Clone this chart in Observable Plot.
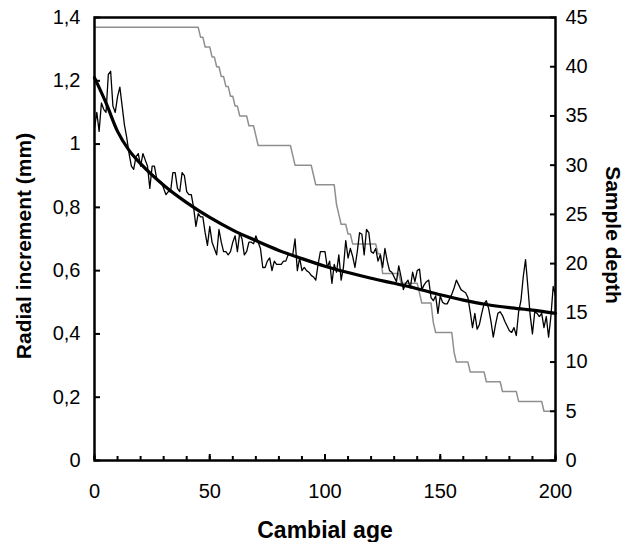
<!DOCTYPE html>
<html><head><meta charset="utf-8">
<script src="https://cdn.jsdelivr.net/npm/d3@7"></script>
<script src="https://cdn.jsdelivr.net/npm/@observablehq/plot@0.6"></script>
<style>body{margin:0;background:#fff}</style>
</head><body><div id="chart"></div>
<script>
// Radial increment (mm), one value per cambial age 0..200
const radialIncrement = [
1.05,1.10,1.04,1.13,1.11,1.10,1.22,1.23,1.12,1.10,
1.15,1.18,1.12,1.06,1.02,0.97,0.93,0.92,0.96,0.97,
0.93,0.97,0.95,0.93,0.86,0.93,0.93,0.89,0.88,0.88,
0.86,0.84,0.85,0.85,0.91,0.91,0.86,0.85,0.91,0.90,
0.85,0.84,0.84,0.80,0.74,0.78,0.77,0.77,0.72,0.68,
0.74,0.69,0.67,0.65,0.73,0.69,0.66,0.66,0.65,0.66,
0.69,0.71,0.66,0.72,0.70,0.65,0.66,0.69,0.69,0.685,
0.71,0.69,0.67,0.61,0.61,0.63,0.64,0.60,0.63,0.62,
0.62,0.62,0.63,0.63,0.65,0.65,0.65,0.70,0.60,0.64,
0.60,0.61,0.60,0.595,0.585,0.58,0.57,0.62,0.66,0.66,
0.66,0.61,0.63,0.56,0.62,0.595,0.65,0.57,0.61,0.695,
0.64,0.67,0.645,0.61,0.66,0.72,0.715,0.65,0.73,0.72,
0.66,0.655,0.67,0.63,0.65,0.61,0.67,0.63,0.60,0.595,
0.58,0.565,0.615,0.58,0.54,0.56,0.57,0.545,0.595,0.565,
0.60,0.605,0.54,0.555,0.565,0.57,0.515,0.505,0.52,0.465,
0.52,0.50,0.495,0.495,0.51,0.525,0.545,0.57,0.555,0.54,
0.535,0.53,0.515,0.47,0.42,0.465,0.415,0.43,0.465,0.495,
0.505,0.48,0.44,0.39,0.43,0.465,0.47,0.458,0.44,0.425,
0.41,0.405,0.42,0.395,0.47,0.505,0.58,0.635,0.55,0.46,
0.40,0.47,0.465,0.455,0.465,0.42,0.455,0.39,0.455,0.55,
0.52];

// Fitted growth curve (read at selected ages)
const fitAges   = [0,5,10,15,20,30,40,50,60,70,80,90,100,110,120,130,140,150,160,170,180,190,200];
const fitValues = [1.21,1.13,1.04,0.98,0.938,0.87,0.815,0.768,0.728,0.695,0.664,0.638,0.614,0.594,0.576,0.560,0.543,0.524,0.507,0.493,0.483,0.475,0.465];

// Sample depth: age at which each depth level starts
const depthStartAges = [0,46,48,51,53,55,57,59,61,63,67,70,71,86,87,95,96,105,106,107,110,112,123,125,133,141,142,147,148,156,157,163,170,177,184,195];
const depthValues    = [44,43,42,41,40,39,38,37,36,35,34,33,32,31,30,29,28,26,25,24,23,22,21,19,18,17,16,14,13,11,10,9,8,7,6,5];

// Axes
const leftTicks = [0,0.2,0.4,0.6,0.8,1,1.2,1.4];
const leftTickLabels = ["0","0,2","0,4","0,6","0,8","1","1,2","1,4"];
const rightTicks = [0,5,10,15,20,25,30,35,40,45];
const xMajorTicks = [0,50,100,150,200];
const xMinorTicks = [0,10,20,30,40,50,60,70,80,90,100,110,120,130,140,150,160,170,180,190,200];
const yMax = 1.4, depthMax = 45;

const toY = d => d * yMax / depthMax;
const rw = radialIncrement.map((v, i) => ({age: i, v}));
const fit = fitAges.map((a, i) => ({age: a, v: fitValues[i]}));
const depth = radialIncrement.map((_, age) => {
  const k = d3.bisectRight(depthStartAges, age) - 1;
  return {age, v: toY(depthValues[k])};
});
const rightPos = rightTicks.map(toY);

const chart = Plot.plot({
  width: 625, height: 542,
  marginLeft: 94, marginRight: 70, marginTop: 17, marginBottom: 82,
  x: {domain: [0, 200]},
  y: {domain: [0, yMax]},
  style: {fontFamily: '"Liberation Sans", Arial, sans-serif', fontSize: "20px", color: "#000", background: "#fff"},
  marks: [
    Plot.line(depth, {x: "age", y: "v", stroke: "#8f8f8f", strokeWidth: 1.5}),
    Plot.line(rw, {x: "age", y: "v", stroke: "#000", strokeWidth: 1.3}),
    Plot.line(fit, {x: "age", y: "v", stroke: "#000", strokeWidth: 3.2, curve: "monotone-x"}),
    Plot.frame({stroke: "#000", strokeWidth: 2.5}),
    Plot.axisY(leftTicks, {anchor: "left", tickSize: 0, tickPadding: 14, label: null,
      tickFormat: d => leftTickLabels[leftTicks.indexOf(d)]}),
    Plot.axisY(leftTicks, {anchor: "left", tickSize: -6, fill: "none", label: null, strokeWidth: 2}),
    Plot.axisY(rightPos, {anchor: "right", tickSize: 0, tickPadding: 10, label: null,
      tickFormat: d => String(rightTicks[rightPos.indexOf(d)])}),
    Plot.axisY(rightPos, {anchor: "right", tickSize: -6, fill: "none", label: null, strokeWidth: 2}),
    Plot.axisX(xMajorTicks, {anchor: "bottom", tickSize: 0, tickPadding: 23, label: null}),
    Plot.axisX(xMinorTicks, {anchor: "bottom", tickSize: -4, fill: "none", label: null, strokeWidth: 2}),
    Plot.axisX(xMajorTicks, {anchor: "bottom", tickSize: -6, fill: "none", label: null, strokeWidth: 2}),
    Plot.text(["Radial increment (mm)"], {text: d => d, frameAnchor: "left", textAnchor: "middle", lineAnchor: "middle", rotate: -90, dx: -70, dy: 7, fontSize: 21, fontWeight: "bold"}),
    Plot.text(["Sample depth"], {text: d => d, frameAnchor: "right", textAnchor: "middle", lineAnchor: "middle", rotate: 90, dx: 57, dy: -4, fontSize: 21, fontWeight: "bold"}),
    Plot.text(["Cambial age"], {text: d => d, frameAnchor: "bottom", textAnchor: "middle", lineAnchor: "middle", dy: 70, fontSize: 23, fontWeight: "bold"})
  ]
});
document.getElementById("chart").appendChild(chart);
</script>
</body></html>
